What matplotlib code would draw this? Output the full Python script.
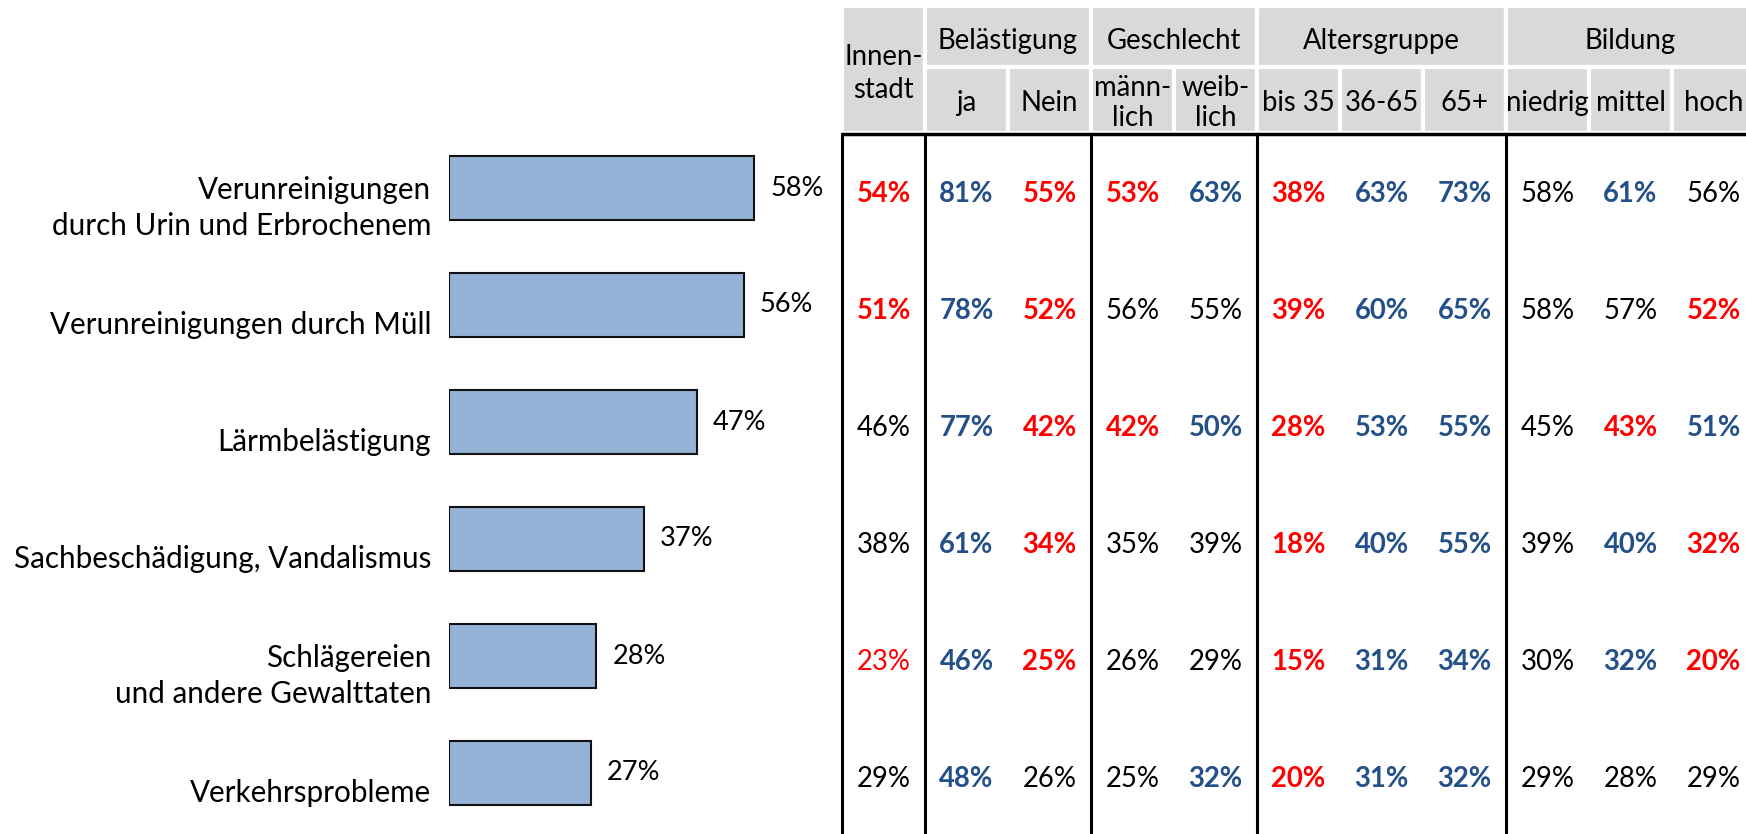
import matplotlib
matplotlib.use('Agg')
import matplotlib.pyplot as plt
from matplotlib.patches import Rectangle
from matplotlib import transforms

plt.rcParams['font.family'] = ['Lato', 'DejaVu Sans']

categories = ['Verunreinigungen\ndurch Urin und Erbrochenem',
              'Verunreinigungen durch Müll',
              'Lärmbelästigung',
              'Sachbeschädigung, Vandalismus',
              'Schlägereien\nund andere Gewalttaten',
              'Verkehrsprobleme']
totals = [58, 56, 47, 37, 28, 27]

groups = ['Innen-\nstadt', 'Belästigung', 'Geschlecht', 'Altersgruppe', 'Bildung']
group_sizes = [1, 2, 2, 3, 3]
subgroups = ['', 'ja', 'Nein', 'männ-\nlich', 'weib-\nlich',
             'bis 35', '36-65', '65+', 'niedrig', 'mittel', 'hoch']

table_values = [
    [54, 81, 55, 53, 63, 38, 63, 73, 58, 61, 56],
    [51, 78, 52, 56, 55, 39, 60, 65, 58, 57, 52],
    [46, 77, 42, 42, 50, 28, 53, 55, 45, 43, 51],
    [38, 61, 34, 35, 39, 18, 40, 55, 39, 40, 32],
    [23, 46, 25, 26, 29, 15, 31, 34, 30, 32, 20],
    [29, 48, 26, 25, 32, 20, 31, 32, 29, 28, 29],
]
# r = red bold, b = blue bold, k = black, rn = red normal
table_marks = [
    ['r', 'b', 'r', 'r', 'b', 'r', 'b', 'b', 'k', 'b', 'k'],
    ['r', 'b', 'r', 'k', 'k', 'r', 'b', 'b', 'k', 'k', 'r'],
    ['k', 'b', 'r', 'r', 'b', 'r', 'b', 'b', 'k', 'r', 'b'],
    ['k', 'b', 'r', 'k', 'k', 'r', 'b', 'b', 'k', 'b', 'r'],
    ['rn', 'b', 'r', 'k', 'k', 'r', 'b', 'b', 'k', 'b', 'r'],
    ['k', 'b', 'k', 'k', 'b', 'r', 'b', 'b', 'k', 'k', 'k'],
]
mark_style = {'r': ('#FF0000', 'bold'), 'b': ('#24508A', 'bold'),
              'k': ('black', 'normal'), 'rn': ('#FF0000', 'normal')}

W, H = 1746, 834
fig = plt.figure(figsize=(W / 100, H / 100), dpi=100)

# bar part
ax = fig.add_axes([449 / W, 2.5 / H, 316 / W, 702 / H])
ypos = list(range(len(categories)))
ax.barh(ypos, totals, height=0.55, color='#95B3D7', edgecolor='#111111', linewidth=1.5)
ax.set_xlim(0, 60)
ax.set_ylim(len(categories) - 0.5, -0.5)
ax.axis('off')
for y, v, cat in zip(ypos, totals, categories):
    ax.text(v + 3, y, f'{v}%', ha='left', va='center', fontsize=19.5)
    ax.text(-3.4, y + 0.17, cat, ha='right', va='center', fontsize=21.3,
            linespacing=1.35, clip_on=False)

# table part, in pixel coordinates
ov = fig.add_axes([0, 0, 1, 1], zorder=-1)
ov.set_xlim(0, W)
ov.set_ylim(H, 0)
ov.axis('off')
row_tr = transforms.blended_transform_factory(ov.transData, ax.transData)

x0, cw = 842, 83
top, mid, hdr = 6, 67, 133
fs = 19.8

col = 0
for g, n in zip(groups, group_sizes):
    left = x0 + col * cw
    if n == 1:
        ov.add_patch(Rectangle((left, top), cw, hdr - top, facecolor='#D9D9D9',
                               edgecolor='white', linewidth=3))
        ov.text(left + cw / 2, (top + hdr) / 2 + 4, g, ha='center', va='center',
                fontsize=fs, linespacing=1.35)
    else:
        ov.add_patch(Rectangle((left, top), cw * n, mid - top, facecolor='#D9D9D9',
                               edgecolor='white', linewidth=3))
        ov.text(left + cw * n / 2, (top + mid) / 2 + 4, g, ha='center', va='center', fontsize=fs)
        for k in range(n):
            sl = left + k * cw
            ov.add_patch(Rectangle((sl, mid), cw, hdr - mid, facecolor='#D9D9D9',
                                   edgecolor='white', linewidth=3))
            ov.text(sl + cw / 2, (mid + hdr) / 2 + 3, subgroups[col + k], ha='center',
                    va='center', fontsize=fs, linespacing=1.22)
    if col > 0:
        ov.plot([left, left], [hdr + 1, H], color='black', lw=2.2, solid_capstyle='butt')
    col += n
ov.plot([x0, x0], [hdr, H], color='black', lw=2.2, solid_capstyle='butt')
ov.plot([x0 - 1, W], [hdr + 1, hdr + 1], color='black', lw=2.5, solid_capstyle='butt')

for r, (vals, marks) in enumerate(zip(table_values, table_marks)):
    for c, (v, m) in enumerate(zip(vals, marks)):
        color, weight = mark_style[m]
        ov.text(x0 + cw * (c + 0.5), r + 0.05, f'{v}%', transform=row_tr,
                ha='center', va='center', fontsize=fs, color=color, fontweight=weight)

fig.savefig('out.png', dpi=100)
